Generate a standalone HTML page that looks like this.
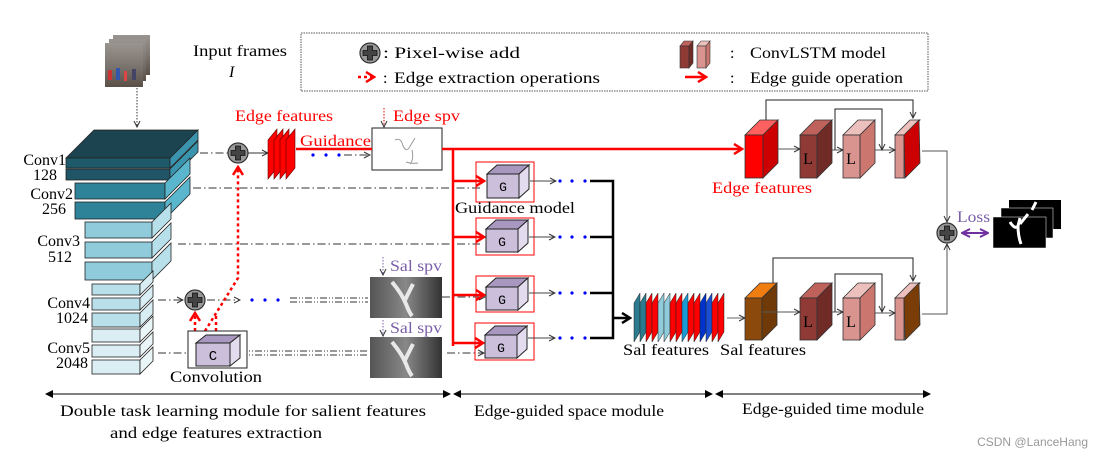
<!DOCTYPE html>
<html><head><meta charset="utf-8"><style>
html,body{margin:0;padding:0;background:#fff;}
svg{display:block;}
text{font-family:"Liberation Serif","Times New Roman",Times,serif;}
</style></head><body>
<svg width="1097" height="457" viewBox="0 0 1097 457" xmlns="http://www.w3.org/2000/svg">
<defs>
<marker id="ah" markerWidth="8" markerHeight="8" refX="7" refY="4" orient="auto" markerUnits="userSpaceOnUse"><path d="M1,1 L7,4 L1,7" fill="none" stroke="#333" stroke-width="1"/></marker>
<marker id="ahr" markerWidth="12" markerHeight="12" refX="10" refY="6" orient="auto" markerUnits="userSpaceOnUse"><path d="M2,1 L10,6 L2,11" fill="none" stroke="#f00" stroke-width="2.5"/></marker>
<marker id="ahk" markerWidth="12" markerHeight="12" refX="10" refY="6" orient="auto" markerUnits="userSpaceOnUse"><path d="M2,1 L10,6 L2,11" fill="none" stroke="#000" stroke-width="2.5"/></marker>
<marker id="ahp" markerWidth="10" markerHeight="10" refX="9" refY="5" orient="auto-start-reverse" markerUnits="userSpaceOnUse"><path d="M1,1 L9,5 L1,9" fill="none" stroke="#7030a0" stroke-width="2"/></marker>
<marker id="ahb" markerWidth="8" markerHeight="8" refX="7" refY="4" orient="auto-start-reverse" markerUnits="userSpaceOnUse"><path d="M0,0 L8,4 L0,8 z" fill="#000"/></marker>
<g id="plus"><circle r="10" fill="#999" stroke="#333" stroke-width="1.2"/><path d="M-2.5,-7h5v4.5h4.5v5h-4.5v4.5h-5v-4.5h-4.5v-5h4.5z" fill="#444" stroke="#111" stroke-width="0.8"/></g>
<linearGradient id="ph" x1="0" y1="0" x2="0" y2="1"><stop offset="0" stop-color="#9a9590"/><stop offset=".5" stop-color="#7d7670"/><stop offset="1" stop-color="#5a5048"/></linearGradient>
</defs>

<!-- input frames -->
<rect x="113" y="35" width="37" height="40" fill="url(#ph)"/>
<rect x="109" y="39" width="37" height="42" fill="url(#ph)"/>
<rect x="105" y="43" width="38" height="44" fill="url(#ph)"/>
<rect x="108" y="70" width="4" height="10" fill="#c33"/><rect x="116" y="68" width="4" height="12" fill="#35a"/><rect x="124" y="71" width="3" height="10" fill="#d44"/><rect x="132" y="69" width="4" height="11" fill="#446"/>
<text x="193" y="56" font-size="16" textLength="94" lengthAdjust="spacingAndGlyphs">Input frames</text>
<text x="229" y="77" font-size="16" font-style="italic">I</text>
<line x1="137" y1="88" x2="137" y2="127" stroke="#333" stroke-dasharray="1.5,1.5" marker-end="url(#ah)"/>

<!-- legend -->
<rect x="301" y="33" width="627" height="58" fill="none" stroke="#555" stroke-dasharray="1.5,1"/>
<use href="#plus" x="370" y="53"/>
<text x="383" y="58" font-size="16" textLength="137" lengthAdjust="spacingAndGlyphs">: Pixel-wise add</text>
<line x1="358" y1="77" x2="374" y2="77" stroke="#f00" stroke-width="2.5" stroke-dasharray="3,3" marker-end="url(#ahr)"/>
<text x="383" y="83" font-size="16">:</text>
<text x="394" y="83" font-size="16" textLength="206" lengthAdjust="spacingAndGlyphs">Edge extraction operations</text>
<polygon points="680,46 684,41 693,41 689,46" fill="#c0625c" stroke="#333" stroke-width=".6"/><rect x="680" y="46" width="9" height="22" fill="#8f3a35" stroke="#333" stroke-width=".6"/><polygon points="689,46 693,41 693,63 689,68" fill="#702b27" stroke="#333" stroke-width=".6"/>
<polygon points="697,46 701,41 710,41 706,46" fill="#ecc0bd" stroke="#333" stroke-width=".6"/><rect x="697" y="46" width="9" height="22" fill="#d99490" stroke="#333" stroke-width=".6"/><polygon points="706,46 710,41 710,63 706,68" fill="#cc7670" stroke="#333" stroke-width=".6"/>
<text x="730" y="58" font-size="16">:</text>
<text x="750" y="58" font-size="16" textLength="136" lengthAdjust="spacingAndGlyphs">ConvLSTM model</text>
<line x1="685" y1="77" x2="706" y2="77" stroke="#f00" stroke-width="2.5" marker-end="url(#ahr)"/>
<text x="730" y="83" font-size="16">:</text>
<text x="750" y="83" font-size="16" textLength="153" lengthAdjust="spacingAndGlyphs">Edge guide operation</text>

<!-- conv stack -->
<g stroke="#222" stroke-width="0.8">
<rect x="66" y="169" width="104" height="11" fill="#1f5566"/><polygon points="170,169 198,141 198,152 170,180" fill="#3b94ad"/>
<polygon points="66,158 94,130 198,130 170,158" fill="#1b4350"/><rect x="66" y="158" width="104" height="10" fill="#1f5a6b"/><polygon points="170,158 198,130 198,140 170,168" fill="#3b94ad"/>
<rect x="75" y="202" width="90" height="17" fill="#2e8399"/><polygon points="165,202 190,177 190,194 165,219" fill="#5ab6cc"/>
<rect x="75" y="183" width="90" height="16" fill="#2e8399"/><polygon points="165,183 190,158 190,174 165,199" fill="#5ab6cc"/>
<rect x="85" y="262" width="67" height="18" fill="#8fcbdb"/><polygon points="152,262 171,243 171,261 152,280" fill="#b8e0ea"/>
<rect x="85" y="242" width="67" height="16" fill="#8fcbdb"/><polygon points="152,242 171,223 171,239 152,258" fill="#b8e0ea"/>
<rect x="85" y="222" width="67" height="16" fill="#8fcbdb"/><polygon points="152,222 171,203 171,219 152,238" fill="#b8e0ea"/>
<rect x="92" y="313" width="48" height="14" fill="#b9dfea"/><polygon points="140,313 153,300 153,314 140,327" fill="#d8eef4"/>
<rect x="92" y="298" width="48" height="12" fill="#b9dfea"/><polygon points="140,298 153,285 153,297 140,310" fill="#d8eef4"/>
<rect x="92" y="284" width="48" height="11" fill="#b9dfea"/><polygon points="140,284 153,271 153,282 140,295" fill="#d8eef4"/>
<rect x="92" y="360" width="48" height="14" fill="#dbeef3"/><polygon points="140,360 153,347 153,361 140,374" fill="#eaf5f8"/>
<rect x="92" y="345" width="48" height="12" fill="#dbeef3"/><polygon points="140,345 153,332 153,344 140,357" fill="#eaf5f8"/>
<rect x="92" y="329" width="48" height="13" fill="#dbeef3"/><polygon points="140,329 153,316 153,329 140,342" fill="#eaf5f8"/>
</g>
<g font-size="16" text-anchor="end">
<text x="66" y="165">Conv1</text><text x="57" y="180">128</text>
<text x="73" y="199">Conv2</text><text x="66" y="214">256</text>
<text x="80" y="246">Conv3</text><text x="72" y="262">512</text>
<text x="90" y="308">Conv4</text><text x="88" y="323">1024</text>
<text x="90" y="353">Conv5</text><text x="88" y="368">2048</text>
</g>

<!-- dash-dot lines -->
<g stroke="#333" stroke-width="1" fill="none" stroke-dasharray="8,3,1.5,3">
<line x1="200" y1="153" x2="228" y2="153"/>
<line x1="193" y1="188" x2="480" y2="188"/>
<line x1="178" y1="244" x2="480" y2="244"/>
<line x1="158" y1="300" x2="183" y2="300" marker-end="url(#ah)"/>
<line x1="207" y1="300" x2="240" y2="300" marker-end="url(#ah)"/>
<line x1="158" y1="353" x2="195" y2="353" marker-end="url(#ah)"/>
<line x1="442" y1="297" x2="485" y2="297" marker-end="url(#ah)"/>
<line x1="447" y1="353" x2="484" y2="353" marker-end="url(#ah)"/>
<line x1="344" y1="155" x2="370" y2="155" marker-end="url(#ah)"/>
</g>
<line x1="248" y1="153" x2="268" y2="153" stroke="#333" marker-end="url(#ah)"/>
<g stroke="#333" stroke-width="1" stroke-dasharray="7,2,1,2,1,2">
<line x1="290" y1="298" x2="368" y2="298"/><line x1="290" y1="302" x2="368" y2="302"/>
<line x1="240" y1="351" x2="368" y2="351"/><line x1="240" y1="355" x2="368" y2="355"/>
</g>
<g fill="#00f"><circle cx="252" cy="300" r="1.6"/><circle cx="265" cy="300" r="1.6"/><circle cx="278" cy="300" r="1.6"/>
<circle cx="313" cy="155" r="1.6"/><circle cx="326" cy="155" r="1.6"/><circle cx="339" cy="155" r="1.6"/></g>

<use href="#plus" x="238" y="153"/>
<use href="#plus" x="195" y="300"/>

<!-- red dotted -->
<g stroke="#f00" stroke-width="2.5" fill="none" stroke-dasharray="3,3">
<polyline points="205,331 238,278 238,167" marker-end="url(#ahr)"/>
<polyline points="195,331 195,313" marker-end="url(#ahr)"/>
<polyline points="216,331 216,313"/>
</g>

<!-- convolution C -->
<rect x="188" y="331" width="59" height="37" fill="#fff" stroke="#222"/>
<polygon points="196,343 206,335 240,335 230,343" fill="#a898c0" stroke="#222"/>
<rect x="196" y="343" width="34" height="23" fill="#cbbfdc" stroke="#222"/>
<polygon points="230,343 240,335 240,358 230,366" fill="#e3dcee" stroke="#222"/>
<text x="213" y="360" font-size="14" text-anchor="middle" style="font-family:'Liberation Mono',monospace">C</text>
<text x="170" y="382" font-size="16" textLength="92" lengthAdjust="spacingAndGlyphs">Convolution</text>

<!-- edge features stack -->
<g stroke="#600" stroke-width="0.6" fill="#f00">
<polygon points="268,140 277,129 277,168 268,179"/>
<polygon points="274,140 283,129 283,168 274,179"/>
<polygon points="280,140 289,129 289,168 280,179"/>
<polygon points="286,140 295,129 295,168 286,179"/>
</g>
<text x="235" y="121" font-size="16" fill="#f00" textLength="98" lengthAdjust="spacingAndGlyphs">Edge features</text>
<text x="300" y="146" font-size="16" fill="#f00" textLength="71" lengthAdjust="spacingAndGlyphs">Guidance</text>

<!-- edge spv -->
<rect x="372" y="128" width="70" height="42" fill="#fff" stroke="#222"/>
<path d="M395,140 q6,-3 8,6 q3,6 6,2 l6,-10 m-3,12 q2,10 -2,14 m-4,-2 q6,2 12,1" stroke="#999" fill="none" stroke-width="1"/>
<line x1="384" y1="108" x2="384" y2="127" stroke="#f00" stroke-dasharray="1.5,1.5" marker-end="url(#ah)"/>
<text x="393" y="121" font-size="16" fill="#f00" textLength="67" lengthAdjust="spacingAndGlyphs">Edge spv</text>

<!-- sal spv images -->
<defs><linearGradient id="gg" x1="0" x2="1"><stop offset="0" stop-color="#555"/><stop offset=".5" stop-color="#888"/><stop offset="1" stop-color="#333"/></linearGradient></defs>
<rect x="370" y="277" width="72" height="41" fill="url(#gg)"/>
<path d="M392,282 q10,12 14,22 q3,8 6,12 M405,300 l8,-16" stroke="#e8e8e8" stroke-width="4" fill="none"/>
<rect x="370" y="337" width="72" height="41" fill="url(#gg)"/>
<path d="M392,342 q10,12 14,22 q3,8 6,12 M405,360 l8,-16" stroke="#e8e8e8" stroke-width="4" fill="none"/>
<line x1="383" y1="257" x2="383" y2="275" stroke="#7a5fa8" stroke-dasharray="1.5,1.5" marker-end="url(#ah)"/>
<text x="390" y="271" font-size="16" fill="#7a5fa8" textLength="52" lengthAdjust="spacingAndGlyphs">Sal spv</text>
<line x1="383" y1="320" x2="383" y2="336" stroke="#7a5fa8" stroke-dasharray="1.5,1.5" marker-end="url(#ah)"/>
<text x="390" y="333" font-size="16" fill="#7a5fa8" textLength="52" lengthAdjust="spacingAndGlyphs">Sal spv</text>

<!-- red guidance lines -->
<g stroke="#f00" stroke-width="2.5" fill="none">
<line x1="296" y1="149" x2="372" y2="149"/>
<line x1="442" y1="149" x2="742" y2="149" marker-end="url(#ahr)"/>
<line x1="453" y1="149" x2="453" y2="346"/>
<line x1="453" y1="181" x2="484" y2="181" marker-end="url(#ahr)"/>
<line x1="453" y1="237" x2="484" y2="237" marker-end="url(#ahr)"/>
<line x1="453" y1="295" x2="484" y2="295" marker-end="url(#ahr)"/>
<line x1="453" y1="343" x2="483" y2="343" marker-end="url(#ahr)"/>
</g>

<!-- G boxes -->
<g stroke="#222" stroke-width="1">
<rect x="476" y="162" width="58" height="40" fill="none" stroke="#f00"/>
<polygon points="487,174 497,165 529,165 519,174" fill="#a898c0"/><rect x="487" y="174" width="32" height="24" fill="#cbbfdc"/><polygon points="519,174 529,165 529,189 519,198" fill="#e3dcee"/>
<rect x="476" y="218" width="58" height="37" fill="none" stroke="#f00"/>
<polygon points="486,229 496,220 528,220 518,229" fill="#a898c0"/><rect x="486" y="229" width="32" height="23" fill="#cbbfdc"/><polygon points="518,229 528,220 528,243 518,252" fill="#e3dcee"/>
<rect x="476" y="276" width="58" height="36" fill="none" stroke="#f00"/>
<polygon points="486,287 496,278 528,278 518,287" fill="#a898c0"/><rect x="486" y="287" width="32" height="23" fill="#cbbfdc"/><polygon points="518,287 528,278 528,301 518,310" fill="#e3dcee"/>
<rect x="475" y="323" width="59" height="37" fill="none" stroke="#f00"/>
<polygon points="485,335 495,326 527,326 517,335" fill="#a898c0"/><rect x="485" y="335" width="32" height="23" fill="#cbbfdc"/><polygon points="517,335 527,326 527,349 517,358" fill="#e3dcee"/>
</g>
<g font-size="13" text-anchor="middle" style="font-family:'Liberation Mono',monospace">
<text x="503" y="191" style="font-family:'Liberation Mono',monospace">G</text><text x="502" y="246" style="font-family:'Liberation Mono',monospace">G</text><text x="502" y="304" style="font-family:'Liberation Mono',monospace">G</text><text x="501" y="352" style="font-family:'Liberation Mono',monospace">G</text>
</g>
<text x="455" y="213" font-size="16" textLength="120" lengthAdjust="spacingAndGlyphs">Guidance model</text>

<!-- G outputs -->
<g stroke="#444" stroke-width="1">
<line x1="530" y1="181" x2="556" y2="181" marker-end="url(#ah)"/>
<line x1="529" y1="237" x2="555" y2="237" marker-end="url(#ah)"/>
<line x1="529" y1="293" x2="555" y2="293" marker-end="url(#ah)"/>
<line x1="528" y1="338" x2="555" y2="338" marker-end="url(#ah)"/>
</g>
<g fill="#00f">
<circle cx="560" cy="181" r="1.6"/><circle cx="572" cy="181" r="1.6"/><circle cx="585" cy="181" r="1.6"/>
<circle cx="560" cy="237" r="1.6"/><circle cx="572" cy="237" r="1.6"/><circle cx="585" cy="237" r="1.6"/>
<circle cx="560" cy="293" r="1.6"/><circle cx="572" cy="293" r="1.6"/><circle cx="585" cy="293" r="1.6"/>
<circle cx="560" cy="338" r="1.6"/><circle cx="572" cy="338" r="1.6"/><circle cx="585" cy="338" r="1.6"/>
</g>
<g stroke="#000" stroke-width="2.5" fill="none">
<polyline points="590,181 613,181 613,338 590,338"/>
<line x1="590" y1="237" x2="613" y2="237"/><line x1="590" y1="293" x2="613" y2="293"/>
<line x1="613" y1="318" x2="630" y2="318" marker-end="url(#ahk)"/>
</g>

<!-- sal features stack -->
<g stroke="#222" stroke-width="0.5">
<polygon points="634,303 640,293 640,332 634,342" fill="#2c7a8e"/>
<polygon points="640,303 646,293 646,332 640,342" fill="#2c7a8e"/>
<polygon points="646,303 652,293 652,332 646,342" fill="#f00"/>
<polygon points="652,303 658,293 658,332 652,342" fill="#f00"/>
<polygon points="658,303 664,293 664,332 658,342" fill="#8fcbdb"/>
<polygon points="664,303 670,293 670,332 664,342" fill="#8fcbdb"/>
<polygon points="670,303 676,293 676,332 670,342" fill="#f00"/>
<polygon points="676,303 682,293 682,332 676,342" fill="#f00"/>
<polygon points="682,303 688,293 688,332 682,342" fill="#1a9ad4"/>
<polygon points="688,303 694,293 694,332 688,342" fill="#f00"/>
<polygon points="694,303 700,293 700,332 694,342" fill="#f00"/>
<polygon points="700,303 706,293 706,332 700,342" fill="#0033cc"/>
<polygon points="706,303 712,293 712,332 706,342" fill="#1a4fd4"/>
<polygon points="712,303 718,293 718,332 712,342" fill="#f00"/>
<polygon points="718,303 724,293 724,332 718,342" fill="#f00"/>
</g>
<text x="623" y="355" font-size="16" textLength="86" lengthAdjust="spacingAndGlyphs">Sal features</text>
<line x1="727" y1="318" x2="745" y2="318" stroke="#666" marker-end="url(#ah)"/>
<text x="720" y="355" font-size="16" textLength="86" lengthAdjust="spacingAndGlyphs">Sal features</text>

<!-- top row ConvLSTM -->
<g stroke="#333" stroke-width="0.8">
<polygon points="745,135 760,120 778,120 763,135" fill="#ff6060"/><rect x="745" y="135" width="18" height="43" fill="#f00"/><polygon points="763,135 778,120 778,163 763,178" fill="#c00"/>
<polygon points="800,135 815,120 832,120 817,135" fill="#c0625c"/><rect x="800" y="135" width="17" height="43" fill="#8f3a35"/><polygon points="817,135 832,120 832,163 817,178" fill="#702b27"/>
<polygon points="843,135 858,120 875,120 860,135" fill="#ecc0bd"/><rect x="843" y="135" width="17" height="43" fill="#d99490"/><polygon points="860,135 875,120 875,163 860,178" fill="#cc7670"/>
<polygon points="895,135 910,120 920,120 905,135" fill="#ecc0bd"/><rect x="895" y="135" width="9" height="43" fill="#d99490"/><polygon points="904,135 919,120 920,163 905,178" fill="#c00"/>
</g>
<text x="808" y="164" font-size="16" text-anchor="middle">L</text>
<text x="851" y="164" font-size="16" text-anchor="middle">L</text>
<text x="712" y="193" font-size="16" fill="#f00" textLength="100" lengthAdjust="spacingAndGlyphs">Edge features</text>
<g stroke="#555" stroke-width="1" fill="none">
<line x1="778" y1="149" x2="800" y2="149" marker-end="url(#ah)"/>
<line x1="832" y1="150" x2="843" y2="150" marker-end="url(#ah)"/>
<line x1="875" y1="150" x2="895" y2="150" marker-end="url(#ah)"/>
<polyline points="766,120 766,100 913,100 913,118" stroke="#222" marker-end="url(#ah)"/>
<polyline points="835,150 835,109 882,109 882,150" stroke="#222" marker-end="url(#ah)"/>
<polyline points="922,151 947,151 947,222" marker-end="url(#ah)"/>
</g>

<!-- bottom row ConvLSTM -->
<g stroke="#333" stroke-width="0.8">
<polygon points="745,298 760,283 777,283 762,298" fill="#f07d10"/><rect x="745" y="298" width="17" height="42" fill="#8b4a0c"/><polygon points="762,298 777,283 777,325 762,340" fill="#6f3a08"/>
<polygon points="800,298 815,283 832,283 817,298" fill="#c0625c"/><rect x="800" y="298" width="17" height="42" fill="#8f3a35"/><polygon points="817,298 832,283 832,325 817,340" fill="#702b27"/>
<polygon points="843,298 858,283 875,283 860,298" fill="#ecc0bd"/><rect x="843" y="298" width="17" height="42" fill="#d99490"/><polygon points="860,298 875,283 875,325 860,340" fill="#cc7670"/>
<polygon points="895,298 910,283 920,283 905,298" fill="#ecc0bd"/><rect x="895" y="298" width="9" height="42" fill="#d99490"/><polygon points="904,298 919,283 920,325 905,340" fill="#7a3d08"/>
</g>
<text x="808" y="327" font-size="16" text-anchor="middle">L</text>
<text x="851" y="327" font-size="16" text-anchor="middle">L</text>
<g stroke="#555" stroke-width="1" fill="none">
<line x1="762" y1="312" x2="800" y2="312" marker-end="url(#ah)"/>
<line x1="832" y1="312" x2="843" y2="312" marker-end="url(#ah)"/>
<line x1="875" y1="313" x2="895" y2="313" marker-end="url(#ah)"/>
<polyline points="773,283 773,258 913,258 913,281" stroke="#222" marker-end="url(#ah)"/>
<polyline points="835,312 835,274 882,274 882,312" stroke="#222" marker-end="url(#ah)"/>
<polyline points="922,314 947,314 947,244" marker-end="url(#ah)"/>
</g>

<use href="#plus" x="947" y="233"/>
<text x="957" y="222" font-size="16" fill="#7a5fa8" textLength="33" lengthAdjust="spacingAndGlyphs">Loss</text>
<line x1="962" y1="233" x2="988" y2="233" stroke="#7030a0" stroke-width="2" marker-end="url(#ahp)" marker-start="url(#ahp)"/>
<rect x="1009" y="200" width="52" height="29" fill="#000"/>
<rect x="1001" y="208" width="52" height="30" fill="#000" stroke="#fff" stroke-width=".5"/>
<rect x="993" y="217" width="53" height="31" fill="#000" stroke="#fff" stroke-width=".5"/>
<path d="M1010,222 q5,8 8,4 l2,-8 m-2,8 q0,10 3,18 M1020,224 l8,-10 m8,-12 l-4,8" stroke="#fff" stroke-width="3" fill="none"/>

<!-- bottom module arrows -->
<g stroke="#000" stroke-width="1">
<line x1="46" y1="394" x2="450" y2="394" marker-end="url(#ahb)" marker-start="url(#ahb)"/>
<line x1="454" y1="394" x2="712" y2="394" marker-end="url(#ahb)" marker-start="url(#ahb)"/>
<line x1="716" y1="394" x2="930" y2="394" marker-end="url(#ahb)" marker-start="url(#ahb)"/>
</g>
<g font-size="16" text-anchor="middle">
<text x="243" y="416" textLength="366" lengthAdjust="spacingAndGlyphs">Double task learning module for salient features</text>
<text x="216" y="438" textLength="212" lengthAdjust="spacingAndGlyphs">and edge features extraction</text>
<text x="569" y="416" textLength="190" lengthAdjust="spacingAndGlyphs">Edge-guided space module</text>
<text x="833" y="414" textLength="182" lengthAdjust="spacingAndGlyphs">Edge-guided time module</text>
</g>
<text x="1088" y="446" font-size="12" fill="#999" text-anchor="end" style="font-family:'Liberation Sans',sans-serif">CSDN @LanceHang</text>
</svg>
</body></html>
